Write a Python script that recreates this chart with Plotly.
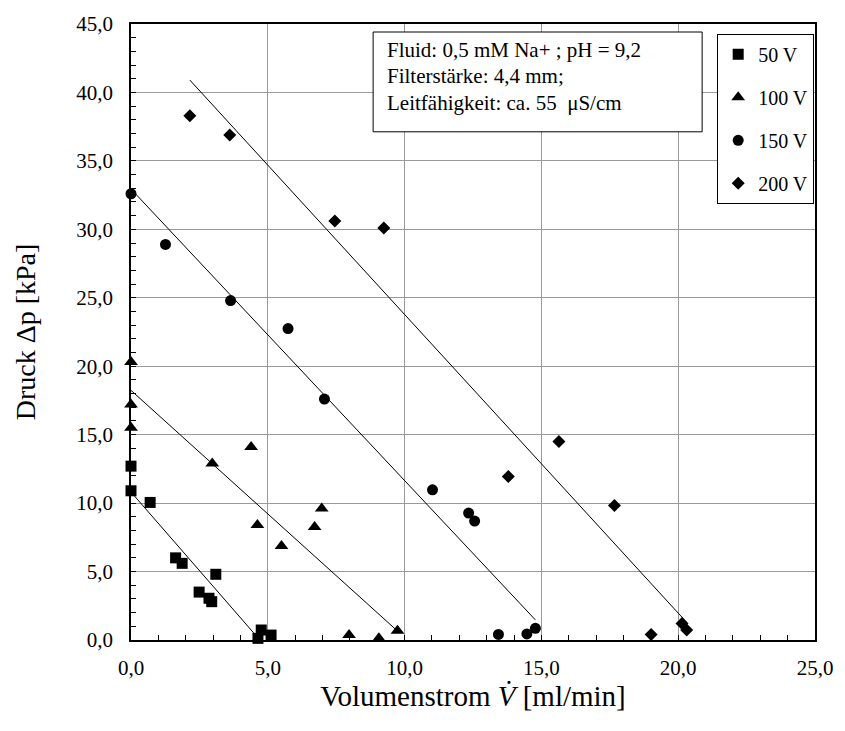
import numpy as np
import plotly.graph_objects as go

# ---- data ----
x50 = [0.0, 0.0, 0.7, 1.63, 1.87, 2.49, 2.85, 2.95, 3.1, 4.64, 4.76, 5.12]
y50 = [12.7, 10.9, 10.05, 6.0, 5.6, 3.5, 3.05, 2.8, 4.8, 0.12, 0.73, 0.36]

x100 = [0.0, 0.0, 0.0, 2.97, 4.39, 4.62, 5.5, 6.71, 6.97, 7.97, 9.06, 9.74]
y100 = [20.3, 17.2, 15.5, 12.9, 14.1, 8.4, 6.87, 8.25, 9.6, 0.36, 0.12, 0.68]

x150 = [0.0, 1.26, 3.64, 5.74, 7.07, 11.02, 12.34, 12.56, 13.43, 14.47, 14.78]
y150 = [32.6, 28.9, 24.8, 22.75, 17.6, 10.97, 9.27, 8.69, 0.41, 0.44, 0.85]

x200 = [2.15, 3.61, 7.45, 9.24, 13.79, 15.64, 17.67, 19.01, 20.14, 20.31]
y200 = [38.3, 36.9, 30.6, 30.1, 11.94, 14.5, 9.83, 0.41, 1.21, 0.73]

series_names = ["50 V", "100 V", "150 V", "200 V"]
symbols = ["square", "triangle-up", "circle", "diamond"]
sizes = [11, 12, 11, 10]

info_lines = [
    "Fluid: 0,5 mM Na+ ; pH = 9,2",
    "Filterstärke: 4,4 mm;",
    "Leitfähigkeit: ca. 55 \u00a0μS/cm",
]

FONT = "Liberation Serif"

fig = go.Figure()
data = [(x50, y50), (x100, y100), (x150, y150), (x200, y200)]

# linear trend lines (least squares over each series' x-range)
for (xs, ys) in data:
    xs_a = np.array(xs)
    k, d = np.polyfit(xs_a, np.array(ys), 1)
    xl = np.array([xs_a.min(), xs_a.max()])
    fig.add_trace(go.Scatter(
        x=xl, y=k * xl + d, mode="lines",
        line=dict(color="black", width=1),
        showlegend=False, hoverinfo="skip", cliponaxis=True))

for i, (xs, ys) in enumerate(data):
    fig.add_trace(go.Scatter(
        x=xs, y=ys, mode="markers", name=series_names[i],
        legendgroup=series_names[i],
        marker=dict(symbol=symbols[i], size=sizes[i], color="black",
                    line=dict(width=0)),
        cliponaxis=False))

axis_common = dict(
    showgrid=True, gridcolor="#9a9a9a", gridwidth=1,
    showline=True, linecolor="black", linewidth=1.5, mirror=True,
    ticks="inside", ticklen=5, tickcolor="black", tickwidth=1,
    zeroline=False, tickformat=".1f",
    tickfont=dict(family=FONT, size=21, color="black"),
    minor=dict(dtick=1, ticks="inside", ticklen=5, tickcolor="black",
               tickwidth=1, showgrid=False),
)

fig.update_xaxes(range=[0, 25], dtick=5, tick0=0, ticklabelstandoff=8,
                 title=dict(text="Volumenstrom <i>V̇</i> [ml/min]",
                            font=dict(family=FONT, size=29, color="black"),
                            standoff=4),
                 **axis_common)
fig.update_yaxes(range=[0, 45], dtick=5, tick0=0, ticklabelstandoff=12,
                 title=dict(text="Druck Δp [kPa]",
                            font=dict(family=FONT, size=28, color="black"),
                            standoff=32),
                 **axis_common)

# info box
fig.add_shape(type="rect", xref="paper", yref="paper",
              x0=0.354, x1=0.835, y0=0.825, y1=0.987,
              line=dict(color="black", width=1), fillcolor="white",
              layer="above")
for j, (txt, yy) in enumerate(zip(info_lines, [0.958, 0.915, 0.871])):
    fig.add_annotation(xref="paper", yref="paper", x=0.371, y=yy,
                       xanchor="left", yanchor="middle", showarrow=False,
                       text=txt, font=dict(family=FONT, size=21, color="black"))

fig.update_layout(
    width=845, height=731,
    margin=dict(l=131, r=22, t=22, b=91),
    paper_bgcolor="white", plot_bgcolor="white",
    separators=",.",
    font=dict(family=FONT, color="black"),
    showlegend=True,
    legend=dict(x=0.857, y=0.984, xanchor="left", yanchor="top",
                bgcolor="white", bordercolor="black", borderwidth=1,
                font=dict(family=FONT, size=20, color="black"),
                tracegroupgap=14, itemwidth=30),
)

fig.write_html("out.html")
